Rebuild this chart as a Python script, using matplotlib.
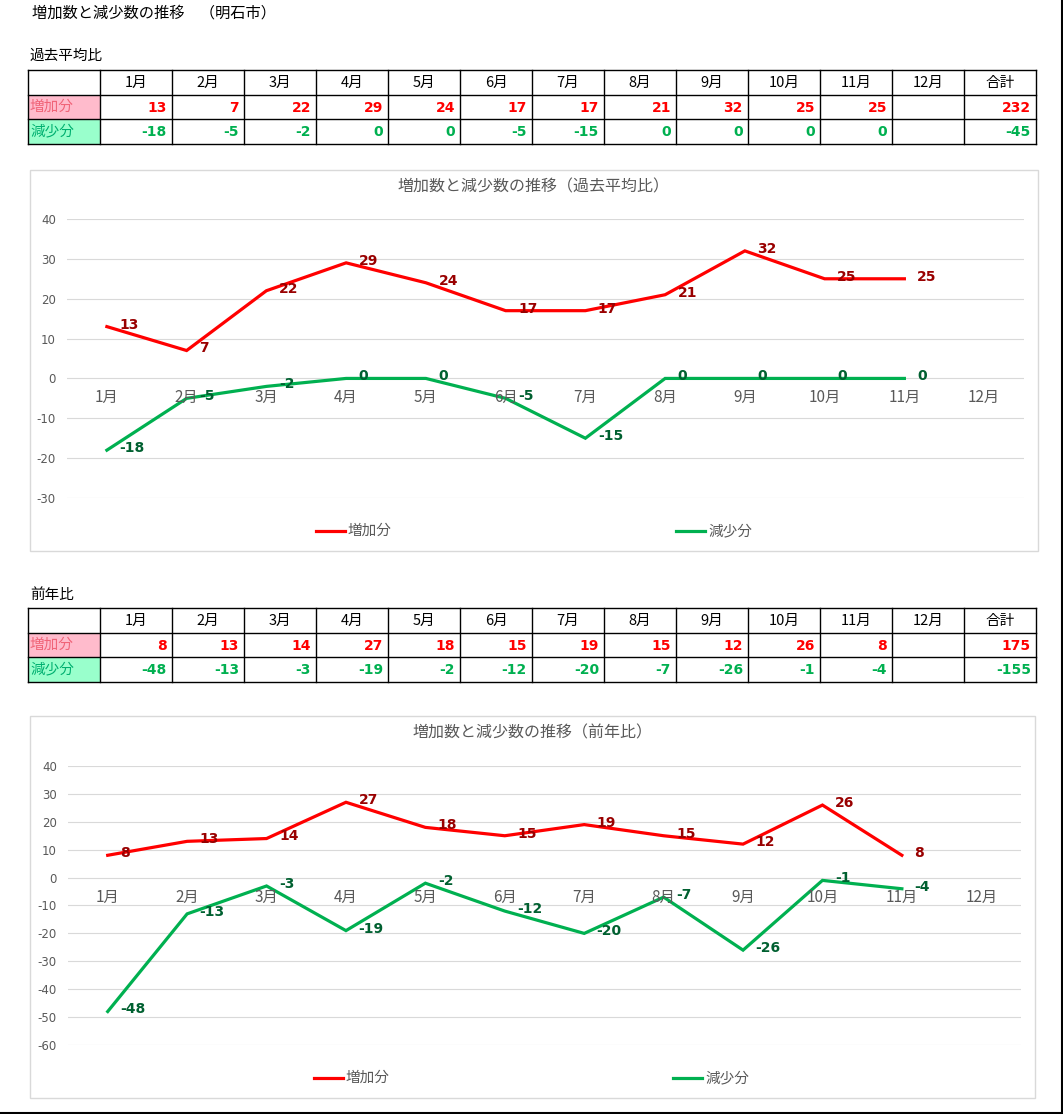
import matplotlib.pyplot as plt
from matplotlib.patches import Rectangle
from matplotlib.lines import Line2D

plt.rcParams['font.family'] = ['Noto Sans CJK JP', 'DejaVu Sans']

# data
months = ['1月', '2月', '3月', '4月', '5月', '6月', '7月', '8月', '9月', '10月', '11月', '12月']
avg_inc = [13, 7, 22, 29, 24, 17, 17, 21, 32, 25, 25]
avg_dec = [-18, -5, -2, 0, 0, -5, -15, 0, 0, 0, 0]
yoy_inc = [8, 13, 14, 27, 18, 15, 19, 15, 12, 26, 8]
yoy_dec = [-48, -13, -3, -19, -2, -12, -20, -7, -26, -1, -4]
avg_ticks = [40, 30, 20, 10, 0, -10, -20, -30]
yoy_ticks = [40, 30, 20, 10, 0, -10, -20, -30, -40, -50, -60]

W, H = 1063, 1114
fig = plt.figure(figsize=(W / 100, H / 100), dpi=100)

RED, GREEN = '#FF0000', '#00B050'
DRED, DGREEN = '#990000', '#006030'
GREY = '#595959'
NUM = ['DejaVu Sans']


def fx(x):
    return x / W


def fy(y):
    return 1 - y / H


def ftext(x, y, s, **kw):
    fig.text(fx(x), fy(y), s, **kw)


def draw_table(top, inc, dec):
    edges = [28] + [100 + 72 * i for i in range(14)]
    rows = [top, top + 25, top + 49, top + 74]
    # coloured row label cells
    fig.add_artist(Rectangle((fx(28), fy(rows[2])), 72 / W, (rows[2] - rows[1]) / H,
                             transform=fig.transFigure, color='#FFBBCC', lw=0))
    fig.add_artist(Rectangle((fx(28), fy(rows[3])), 72 / W, (rows[3] - rows[2]) / H,
                             transform=fig.transFigure, color='#99FFCC', lw=0))
    for y in rows:
        fig.add_artist(Line2D([fx(28), fx(edges[-1])], [fy(y), fy(y)], color='black', lw=1))
    for x in edges:
        fig.add_artist(Line2D([fx(x), fx(x)], [fy(rows[0]), fy(rows[-1])], color='black', lw=1))
    yc = [(rows[i] + rows[i + 1]) / 2 for i in range(3)]
    heads = months + ['合計']
    for i, h in enumerate(heads):
        ftext((edges[i + 1] + edges[i + 2]) / 2, yc[0], h, ha='center', va='center', fontsize=10.5, color='black')
    ftext(30, yc[1], '増加分', ha='left', va='center', fontsize=10.5, color='#F06478')
    ftext(30, yc[2], '減少分', ha='left', va='center', fontsize=10.5, color='#00B070')
    for j, (vals, col) in enumerate([(inc, RED), (dec, GREEN)]):
        cells = [str(v) for v in vals] + [''] * (12 - len(vals)) + [str(sum(vals))]
        for i, s in enumerate(cells):
            ftext(edges[i + 2] - 5, yc[j + 1] + 1, s, ha='right', va='center', fontsize=10,
                  fontweight='bold', color=col, family=NUM)


def draw_chart(box, ax_rect, title, title_y, inc, dec, ticks, legend_y, leg_x):
    x0, y0, x1, y1 = box
    fig.add_artist(Rectangle((fx(x0), fy(y1)), (x1 - x0) / W, (y1 - y0) / H,
                             transform=fig.transFigure, fill=False, edgecolor='#D9D9D9', lw=1))
    ftext((x0 + x1) / 2, title_y, title, ha='center', va='center', fontsize=11.5, color=GREY)
    l, t, r, b = ax_rect
    ax = fig.add_axes([fx(l), fy(b), (r - l) / W, (b - t) / H])
    ax.set_xlim(-0.5, 11.5)
    ax.set_ylim(min(ticks), max(ticks))
    ax.set_yticks(ticks)
    ax.set_yticklabels([str(t) for t in ticks], family=NUM, fontsize=8.5, color=GREY)
    ax.set_xticks([])
    ax.tick_params(axis='y', length=0, pad=8)
    ax.grid(axis='y', color='#D9D9D9', lw=0.8)
    ax.set_axisbelow(True)
    for s in ax.spines.values():
        s.set_visible(False)
    ax.patch.set_alpha(0)
    for i, m in enumerate(months):
        ax.annotate(m, (i, 0), xytext=(0, -14), textcoords='offset points', ha='center', va='center',
                    fontsize=11, color=GREY)
    xs = range(len(inc))
    ax.plot(xs, inc, color=RED, lw=2.3, solid_joinstyle='miter', clip_on=False)
    ax.plot(xs, dec, color=GREEN, lw=2.3, solid_joinstyle='miter', clip_on=False)
    for vals, col in [(inc, DRED), (dec, DGREEN)]:
        for i, v in enumerate(vals):
            ax.annotate(str(v), (i, v), xytext=(9, 1.5), textcoords='offset points', ha='left', va='center',
                        fontsize=10, fontweight='bold', color=col, family=NUM)
    for lx, col, name in [(leg_x[0], RED, '増加分'), (leg_x[1], GREEN, '減少分')]:
        fig.add_artist(Line2D([fx(lx), fx(lx + 29)], [fy(legend_y), fy(legend_y)], color=col, lw=2.3))
        ftext(lx + 32, legend_y, name, ha='left', va='center', fontsize=10.5, color=GREY)


ftext(32, 13, '増加数と減少数の推移　（明石市）', ha='left', va='center', fontsize=11, color='black')
ftext(30, 56, '過去平均比', ha='left', va='center', fontsize=10.5, color='black')
draw_table(70, avg_inc, avg_dec)
draw_chart((30, 170, 1038, 551), (67, 219, 1024, 498), '増加数と減少数の推移（過去平均比）', 187,
           avg_inc, avg_dec, avg_ticks, 531, (316, 676))

ftext(30, 595, '前年比', ha='left', va='center', fontsize=10.5, color='black')
draw_table(608, yoy_inc, yoy_dec)
draw_chart((30, 716, 1035, 1098), (68, 766, 1021, 1045), '増加数と減少数の推移（前年比）', 733,
           yoy_inc, yoy_dec, yoy_ticks, 1078, (314, 673))

# page frame on the right and bottom edges
fig.add_artist(Line2D([fx(1062), fx(1062)], [fy(0), fy(1113)], color='black', lw=1.5))
fig.add_artist(Line2D([fx(0), fx(1062)], [fy(1113), fy(1113)], color='black', lw=1.5))

fig.savefig('out.png', dpi=100)
